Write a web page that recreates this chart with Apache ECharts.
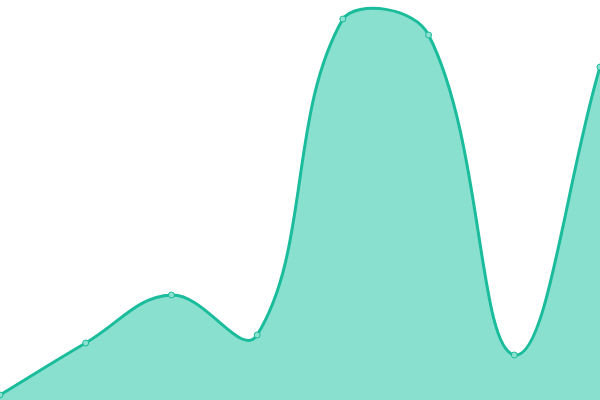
<!DOCTYPE html>
<html lang="en">
<head>
<meta charset="UTF-8">
<script src="https://cdn.jsdelivr.net/npm/echarts@6/dist/echarts.min.js"></script>
<style>
	html, body { margin: 0; padding: 0; background: #fff; }
	#main { width: 600px; height: 400px; }
</style>
</head>
<body>
	<div id="main"></div>
	<script type="text/javascript">
		// data (0 = bottom edge, 400 = top edge)
		var categories = ['1', '2', '3', '4', '5', '6', '7', '8'];
		var values = [5, 57, 105, 65, 381, 365, 45, 333];
		var tension = 0.4;

		// cardinal spline through the points, control points kept inside the plot
		function buildPaths(api, rect) {
			var pts = [];
			for (var i = 0; i < values.length; i++) {
				pts.push(api.coord([i, values[i]]));
			}
			var cap = function (p) {
				return [
					Math.min(Math.max(p[0], rect.x), rect.x + rect.width),
					Math.min(Math.max(p[1], rect.y), rect.y + rect.height)
				];
			};
			var cps = pts.map(function (cur, i) {
				var prev = pts[i - 1] || cur, next = pts[i + 1] || cur;
				var d01 = Math.hypot(cur[0] - prev[0], cur[1] - prev[1]);
				var d12 = Math.hypot(next[0] - cur[0], next[1] - cur[1]);
				var s01 = d01 / (d01 + d12) || 0, s12 = d12 / (d01 + d12) || 0;
				var fa = tension * s01, fb = tension * s12;
				return {
					before: cap([cur[0] - fa * (next[0] - prev[0]), cur[1] - fa * (next[1] - prev[1])]),
					after: cap([cur[0] + fb * (next[0] - prev[0]), cur[1] + fb * (next[1] - prev[1])])
				};
			});
			var d = 'M' + pts[0][0] + ' ' + pts[0][1];
			for (var j = 1; j < pts.length; j++) {
				var a = cps[j - 1].after, b = cps[j].before;
				d += ' C' + a[0] + ' ' + a[1] + ' ' + b[0] + ' ' + b[1] + ' ' + pts[j][0] + ' ' + pts[j][1];
			}
			var bottom = rect.y + rect.height;
			var area = d + ' L' + pts[pts.length - 1][0] + ' ' + bottom + ' L' + pts[0][0] + ' ' + bottom + ' Z';
			return { line: d, area: area };
		}

		var mychar = echarts.init(document.getElementById('main'));
		var option = {
			animation: false,
			grid: { left: 0, right: 0, top: 0, bottom: 0 },
			xAxis: {
				type: 'category',
				boundaryGap: false,
				data: categories,
				show: false
			},
			yAxis: {
				type: 'value',
				min: 0,
				max: 400,
				show: false
			},
			series: [{
				type: 'custom',
				data: values,
				renderItem: function (params, api) {
					if (params.dataIndex !== 0) return null;
					var p = buildPaths(api, params.coordSys);
					return {
						type: 'group',
						children: [{
							type: 'path',
							shape: { pathData: p.area },
							style: { fill: '#8ae0cf', stroke: null }
						}, {
							type: 'path',
							shape: { pathData: p.line },
							style: { fill: null, stroke: '#1abc9c', lineWidth: 3 }
						}]
					};
				}
			}, {
				type: 'scatter',
				data: values,
				symbol: 'circle',
				symbolSize: 6,
				z: 3,
				itemStyle: { color: '#8be0cf', borderColor: '#1abc9c', borderWidth: 1, opacity: 1 }
			}]
		};
		mychar.setOption(option);
	</script>
</body>
</html>
